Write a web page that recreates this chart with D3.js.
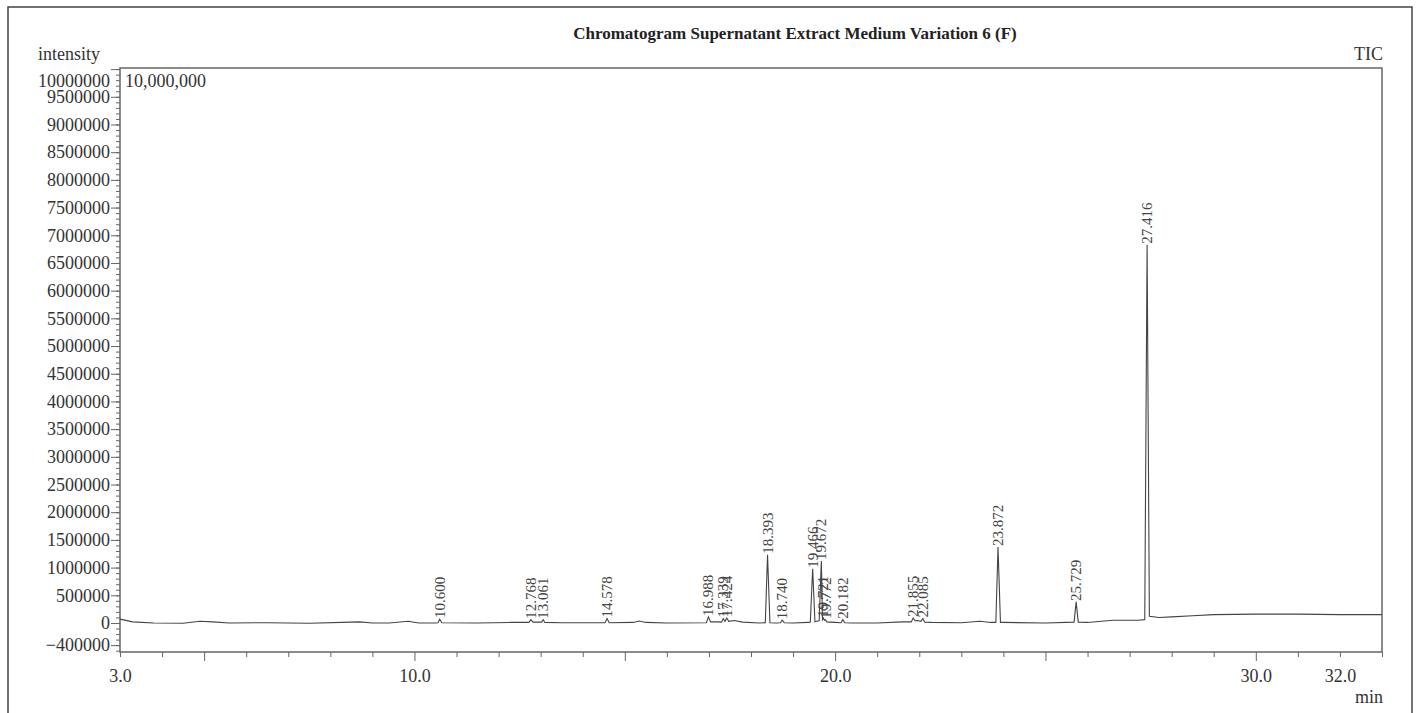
<!DOCTYPE html>
<html>
<head>
<meta charset="utf-8">
<script src="https://cdn.jsdelivr.net/npm/d3@7"></script>
<style>
  body { margin: 0; background: #fff; }
  svg { display: block; font-family: "Liberation Serif", "DejaVu Serif", serif; }
  .tick text { font-size: 18px; fill: #333; }
</style>
</head>
<body>
<svg width="1418" height="713"></svg>
<script>
// retention time (min) / intensity
const traceTime = [
  3.0, 3.3, 3.8, 4.5, 4.9, 5.2, 5.6, 6.5, 7.5, 8.5, 8.7, 9.0, 9.4, 9.85, 10.1, 10.5,
  10.56, 10.6, 10.65, 11.5, 12.3, 12.72, 12.768, 12.82, 13.02, 13.061, 13.1, 13.5,
  14.53, 14.578, 14.63, 15.2, 15.34, 15.5, 16.0, 16.94, 16.988, 17.04, 17.2, 17.3,
  17.339, 17.38, 17.424, 17.47, 17.6, 17.8, 18.2, 18.34, 18.393, 18.45, 18.6, 18.7,
  18.74, 18.79, 19.0, 19.35, 19.41, 19.466, 19.52, 19.56, 19.62, 19.672, 19.7,
  19.721, 19.745, 19.772, 19.8, 20.0, 20.14, 20.182, 20.23, 20.4, 21.0, 21.6, 21.81,
  21.855, 21.9, 21.95, 22.04, 22.085, 22.13, 22.3, 23.0, 23.44, 23.7, 23.82, 23.872,
  23.93, 24.0, 25.0, 25.68, 25.729, 25.78, 26.0, 26.6, 27.2, 27.36, 27.416, 27.47,
  27.7, 28.0, 28.5, 29.0, 30.0, 31.0, 32.0, 33.0
];
const traceIntensity = [
  70000, 20000, 0, -5000, 30000, 20000, 0, 5000, -5000, 15000, 20000, 0, 0, 30000, 0, 0,
  5000, 70000, 5000, 0, 10000, 10000, 60000, 15000, 15000, 60000, 10000, 5000,
  5000, 80000, 5000, 10000, 35000, 10000, 0, 5000, 110000, 20000, 20000, 15000,
  80000, 30000, 90000, 30000, 45000, 15000, 0, 5000, 1230000, 5000, 0, 5000,
  50000, 5000, 0, 10000, 15000, 980000, 20000, 30000, 40000, 1120000, 60000,
  90000, 50000, 60000, 20000, 10000, 5000, 60000, 5000, 0, 0, 20000, 20000,
  90000, 40000, 45000, 30000, 80000, 15000, 10000, 5000, 30000, 10000, 10000, 1370000,
  10000, 10000, 0, 15000, 380000, 15000, 10000, 50000, 50000, 60000, 6830000, 120000,
  100000, 110000, 130000, 150000, 160000, 160000, 150000, 150000
];

// labelled peaks
const peakTimes = [
  10.600, 12.768, 13.061, 14.578, 16.988, 17.339, 17.424, 18.393, 18.740, 19.466,
  19.672, 19.721, 19.772, 20.182, 21.855, 22.085, 23.872, 25.729, 27.416
];
const peakLabels = [
  "10.600", "12.768", "13.061", "14.578", "16.988", "17.339", "17.424", "18.393", "18.740", "19.466",
  "19.672", "19.721", "19.772", "20.182", "21.855", "22.085", "23.872", "25.729", "27.416"
];

// axis ticks
const yLabelValues = [-400000, 0, 500000, 1000000, 1500000, 2000000, 2500000, 3000000,
  3500000, 4000000, 4500000, 5000000, 5500000, 6000000, 6500000, 7000000, 7500000,
  8000000, 8500000, 9000000, 9500000, 10000000];
const xLabelValues = [3, 10, 20, 30, 32];

const svg = d3.select("svg");
const ink = "#333";
const axisColor = "#666";
const serif = '"Liberation Serif", "DejaVu Serif", serif';

// plot area
const plotLeft = 120, plotRight = 1382, plotTop = 68, plotBottom = 652;

const x = d3.scaleLinear().domain([3, 33]).range([plotLeft, plotRight]);
const y = d3.scaleLinear().domain([-524000, 10020000]).range([plotBottom, plotTop]);

// outer frame
svg.append("rect")
  .attr("x", 8).attr("y", 7)
  .attr("width", 1404).attr("height", 730)
  .attr("fill", "none")
  .attr("stroke", "#444")
  .attr("stroke-width", 1.5);

// title
svg.append("text")
  .attr("x", 795).attr("y", 39)
  .attr("text-anchor", "middle")
  .attr("font-size", 17)
  .attr("font-weight", "bold")
  .attr("fill", "#222")
  .text("Chromatogram Supernatant Extract Medium Variation 6 (F)");

svg.append("text")
  .attr("x", 100).attr("y", 60)
  .attr("text-anchor", "end")
  .attr("font-size", 18)
  .attr("fill", ink)
  .text("intensity");

svg.append("text")
  .attr("x", 1383).attr("y", 60)
  .attr("text-anchor", "end")
  .attr("font-size", 18)
  .attr("fill", ink)
  .text("TIC");

svg.append("text")
  .attr("x", 1383).attr("y", 703)
  .attr("text-anchor", "end")
  .attr("font-size", 18)
  .attr("fill", ink)
  .text("min");

svg.append("text")
  .attr("x", 125).attr("y", 87)
  .attr("font-size", 18)
  .attr("fill", ink)
  .text("10,000,000");

// y minor ticks
svg.append("g")
  .attr("transform", "translate(" + plotLeft + ",0)")
  .call(d3.axisLeft(y)
    .tickValues(d3.range(-500000, 10000001, 100000))
    .tickSize(4)
    .tickFormat(""))
  .call(g => g.select(".domain").remove())
  .selectAll("line").attr("stroke", axisColor);

// y major ticks + labels
const yAxisG = svg.append("g")
  .attr("transform", "translate(" + plotLeft + ",0)")
  .call(d3.axisLeft(y)
    .tickValues(yLabelValues)
    .tickSize(9)
    .tickPadding(1)
    .tickFormat(d3.format("d")));
yAxisG.attr("font-family", serif);
yAxisG.select(".domain").remove();
yAxisG.selectAll("line").attr("stroke", axisColor);
yAxisG.selectAll("text")
  .attr("fill", ink)
  .attr("dy", d => d === 10000000 ? "0.95em" : "0.32em");

// x minor ticks
svg.append("g")
  .attr("transform", "translate(0," + plotBottom + ")")
  .call(d3.axisBottom(x)
    .tickValues(d3.range(3, 34, 1).filter(d => d % 5 !== 0))
    .tickSize(5)
    .tickFormat(""))
  .call(g => g.select(".domain").remove())
  .selectAll("line").attr("stroke", axisColor);

// x major ticks
svg.append("g")
  .attr("transform", "translate(0," + plotBottom + ")")
  .call(d3.axisBottom(x)
    .tickValues([5, 10, 15, 20, 25, 30])
    .tickSize(9)
    .tickFormat(""))
  .call(g => g.select(".domain").remove())
  .selectAll("line").attr("stroke", axisColor);

// x labels
const xAxisG = svg.append("g")
  .attr("transform", "translate(0," + plotBottom + ")")
  .call(d3.axisBottom(x)
    .tickValues(xLabelValues)
    .tickSize(0)
    .tickPadding(17)
    .tickFormat(d3.format(".1f")));
xAxisG.attr("font-family", serif);
xAxisG.select(".domain").remove();
xAxisG.selectAll("text").attr("fill", ink);

// plot frame
svg.append("rect")
  .attr("x", plotLeft).attr("y", plotTop)
  .attr("width", plotRight - plotLeft).attr("height", plotBottom - plotTop)
  .attr("fill", "none")
  .attr("stroke", axisColor)
  .attr("stroke-width", 1.5);

// trace
const points = traceTime.map((t, i) => [t, traceIntensity[i]]);
const line = d3.line()
  .x(d => x(d[0]))
  .y(d => y(d[1]));

svg.append("path")
  .datum(points)
  .attr("d", line)
  .attr("fill", "none")
  .attr("stroke", "#444")
  .attr("stroke-width", 1.1);

// peak labels at apex
function apexAt(t) {
  const near = points.filter(p => Math.abs(p[0] - t) < 0.01);
  return d3.max(near, p => p[1]);
}

svg.append("g")
  .selectAll("text")
  .data(peakTimes)
  .join("text")
  .attr("transform", d => "translate(" + (x(d) + 5) + "," + (y(apexAt(d)) - 1) + ") rotate(-90)")
  .attr("font-size", 15)
  .attr("fill", "#444")
  .text((d, i) => peakLabels[i]);
</script>
</body>
</html>
